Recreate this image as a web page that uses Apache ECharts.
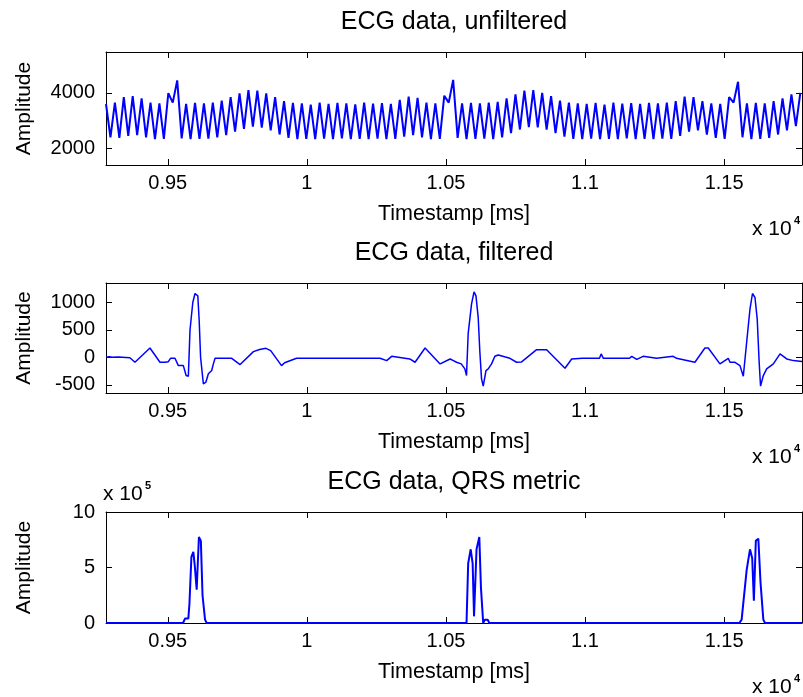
<!DOCTYPE html>
<html>
<head>
<meta charset="utf-8">
<script src="https://cdn.jsdelivr.net/npm/echarts@6/dist/echarts.min.js"></script>
<style>
  html, body { margin: 0; padding: 0; background: #fff; }
  #chart { width: 803px; height: 697px; }
</style>
</head>
<body>
<div id="chart"></div>
<script>
// ---- ECG recording, timestamps in ms ----
const X_MIN = 9278;
const X_MAX = 11780;
const xTickValues = [9500, 10000, 10500, 11000, 11500];

// Raw ECG samples (uniform sampling, step in ms)
const rawStart = 9278;
const rawStep = 16;
const rawValues = [
  3600, 2400, 3650, 2380, 3850, 2450, 3880, 2480, 3800, 2400,
  3650, 2330, 3620, 2340, 3990, 3650, 4450, 2360, 3600, 2330,
  3640, 2340, 3620, 2350, 3650, 2400, 3720, 2480, 3850, 2600,
  3980, 2700, 4100, 2780, 4080, 2750, 3980, 2650, 3850, 2500,
  3700, 2380, 3640, 2330,
  3620, 2340, 3580, 2330, 3650, 2350, 3600, 2330, 3640, 2360,
  3620, 2330, 3590, 2340, 3650, 2330, 3610, 2350, 3630, 2330,
  3600, 2340,
  3750, 2420, 3870, 2480, 3820, 2400, 3650, 2330, 3620, 2340,
  3900, 3650, 4470, 2380, 3620, 2330, 3640, 2340, 3620, 2350,
  3650, 2330, 3680, 2400, 3800, 2550, 3950, 2680, 4080, 2770,
  4100, 2760, 4000, 2680, 3880, 2550, 3720, 2420, 3650, 2340,
  3620, 2330, 3600, 2350, 3640, 2330, 3580, 2340, 3650, 2330,
  3610, 2360, 3630, 2330, 3600, 2340, 3640, 2330, 3620, 2350,
  3650, 2340,
  3700, 2450, 3870, 2600, 3850, 2650, 3700, 2500, 3620, 2380,
  3600, 2340, 3850, 3650, 4400, 2400, 3620, 2330, 3640, 2340,
  3620, 2380, 3700, 2500, 3800, 2650, 3950, 2800, 4000
];

// Band-pass filtered ECG (time, amplitude)
const filtT = [
  9278, 9290, 9300, 9322, 9364, 9382, 9436, 9472, 9490, 9502,
  9510, 9526, 9538, 9556, 9566, 9574, 9580, 9590, 9598, 9604,
  9608, 9613, 9618, 9628, 9637, 9646, 9658, 9664, 9670, 9730,
  9760, 9808, 9830, 9853, 9870, 9909, 9920, 9963, 10030, 10035,
  10040, 10150, 10155, 10160, 10263, 10287, 10305, 10311, 10370, 10389,
  10425, 10479, 10515, 10527, 10538, 10555, 10568, 10574, 10580, 10592,
  10601, 10606, 10608, 10616, 10622, 10628, 10634, 10644, 10652, 10664,
  10676, 10688, 10730, 10754, 10772, 10826, 10862, 10928, 10952, 10990,
  11052, 11058, 11066, 11160, 11168, 11186, 11209, 11233, 11257, 11317,
  11329, 11395, 11431, 11443, 11485, 11515, 11521, 11539, 11557, 11569,
  11584, 11593, 11602, 11607, 11611, 11619, 11626, 11631, 11641, 11653,
  11677, 11701, 11725, 11749, 11780
];
const filtV = [
  0, 10, 0, 5, -10, -90, 168, -91, -91, -80,
  -19, -19, -152, -152, -333, -345, 495, 996, 1159, 1159,
  1117, 664, 0, -484, -453, -300, -240, -121, -19, -19,
  -133, 102, 140, 162, 120, -152, -100, -19, -19, 0,
  -19, -19, 0, -19, -19, -61, 17, -19, -31, -91,
  168, -121, -31, -61, -91, -120, -212, -333, 435, 966,
  1189, 1189, 1117, 724, 90, -393, -526, -242, -212, -121,
  17, 42, -19, -91, -85, 138, 138, -200, -31, -19,
  -19, 60, -19, -19, 17, -40, 17, 0, -19, 17,
  -19, -91, 168, 168, -121, -19, -91, -91, -152, -345,
  422, 875, 1159, 1159, 1086, 694, -91, -526, -333, -212,
  -121, 60, -31, -61, -76
];

// QRS detection metric (time, value)
const qrsT = [
  9278, 9555, 9562, 9574, 9578, 9585, 9592, 9597, 9604, 9612,
  9619, 9625, 9634, 9640, 10574, 10580, 10589, 10596, 10601, 10610,
  10620, 10626, 10634, 10640, 10650, 10656, 11555, 11563, 11581, 11593,
  11601, 11607, 11614, 11623, 11631, 11641, 11647, 11780
];
const qrsV = [
  0, 0, 40000, 40000, 175000, 595000, 640000, 520000, 300000, 775000,
  740000, 250000, 30000, 0, 0, 537000, 664000, 537000, 60000, 664000,
  775000, 312000, 0, 30000, 30000, 0, 0, 30000, 477000, 664000,
  584000, 200000, 740000, 760000, 360000, 30000, 0, 0
];

// y-axis ticks per panel
const rawYTicks = [2000, 4000];
const filtYTicks = [-500, 0, 500, 1000];
const qrsYTicks = [0, 500000, 1000000];

const FONT = '"Liberation Sans", Arial, Helvetica, sans-serif';
const BLUE = '#0000ff';

const rawData = rawValues.map((v, i) => [rawStart + i * rawStep, v]);
const filtData = filtT.map((t, i) => [t, filtV[i]]);
const qrsData = qrsT.map((t, i) => [t, qrsV[i]]);

const panels = [
  { top: 52, height: 113, yMin: 1400, yMax: 5475, yTicks: rawYTicks, yFmt: v => String(v) },
  { top: 283, height: 110, yMin: -650, yMax: 1350, yTicks: filtYTicks, yFmt: v => String(v) },
  { top: 512, height: 111, yMin: 0, yMax: 1000000, yTicks: qrsYTicks, yFmt: v => String(v / 100000) }
];

const axisLine = { show: true, onZero: false, lineStyle: { color: '#000', width: 1 } };
const labelStyle = { color: '#000', fontSize: 20, fontFamily: FONT };

const grid = [], xAxis = [], yAxis = [];
panels.forEach((p, g) => {
  grid.push({ left: 106, top: p.top, width: 696, height: p.height, show: false });
  ['bottom', 'top'].forEach(pos => {
    xAxis.push({
      type: 'value', gridIndex: g, position: pos, min: X_MIN, max: X_MAX,
      axisLine,
      axisTick: { show: true, inside: true, length: 6, customValues: xTickValues, lineStyle: { color: '#000' } },
      axisLabel: Object.assign({
        show: pos === 'bottom', customValues: xTickValues, margin: 8,
        formatter: v => String(parseFloat((v / 10000).toFixed(2)))
      }, labelStyle),
      splitLine: { show: false }
    });
  });
  ['left', 'right'].forEach(pos => {
    yAxis.push({
      type: 'value', gridIndex: g, position: pos, min: p.yMin, max: p.yMax,
      axisLine,
      axisTick: { show: true, inside: true, length: 6, customValues: p.yTicks, lineStyle: { color: '#000' } },
      axisLabel: Object.assign({
        show: pos === 'left', customValues: p.yTicks, margin: 11, formatter: p.yFmt
      }, labelStyle),
      splitLine: { show: false }
    });
  });
});

const series = [rawData, filtData, qrsData].map((d, g) => ({
  type: 'line', xAxisIndex: g * 2, yAxisIndex: g * 2, data: d,
  showSymbol: false, symbol: 'none', animation: false,
  lineStyle: { color: BLUE, width: g === 1 ? 1.5 : 2 }
}));

const titles = ['ECG data, unfiltered', 'ECG data, filtered', 'ECG data, QRS metric'];
const text = (x, y, str, size, extra) => Object.assign({
  type: 'text', x, y, silent: true,
  style: { text: str, fill: '#000', font: size + 'px ' + FONT, textAlign: 'center', textVerticalAlign: 'middle' }
}, extra || {});

const graphic = [];
panels.forEach((p, g) => {
  graphic.push(text(454, p.top - 30, titles[g], 25));
  graphic.push(text(454, p.top + p.height + 49, 'Timestamp [ms]', 21.5));
  graphic.push(text(24, p.top + p.height / 2, 'Amplitude', 21, { rotation: Math.PI / 2 }));
  // x-axis exponent
  graphic.push({ type: 'text', x: 752, y: p.top + p.height + 64, silent: true,
    style: { text: 'x 10', fill: '#000', font: '21px ' + FONT, textAlign: 'left', textVerticalAlign: 'middle' } });
  graphic.push({ type: 'text', x: 794, y: p.top + p.height + 56, silent: true,
    style: { text: '4', fill: '#000', font: 'bold 11px ' + FONT, textAlign: 'left', textVerticalAlign: 'middle' } });
});
// y-axis exponent of the QRS panel
graphic.push({ type: 'text', x: 103, y: 494, silent: true,
  style: { text: 'x 10', fill: '#000', font: '21px ' + FONT, textAlign: 'left', textVerticalAlign: 'middle' } });
graphic.push({ type: 'text', x: 145, y: 486, silent: true,
  style: { text: '5', fill: '#000', font: 'bold 11px ' + FONT, textAlign: 'left', textVerticalAlign: 'middle' } });

const chart = echarts.init(document.getElementById('chart'), null, { renderer: 'canvas' });
chart.setOption({
  backgroundColor: '#fff',
  animation: false,
  grid, xAxis, yAxis, series, graphic
});
</script>
</body>
</html>
